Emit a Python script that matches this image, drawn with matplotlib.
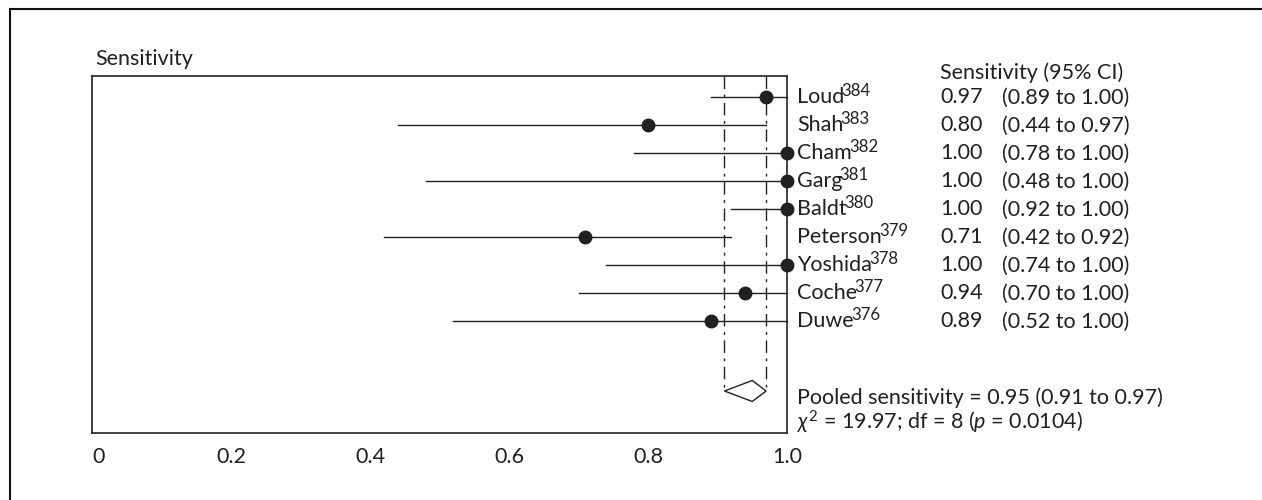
import matplotlib
matplotlib.use("Agg")
import matplotlib.pyplot as plt
from matplotlib.lines import Line2D
from matplotlib.patches import Polygon
import matplotlib.transforms as mtransforms

plt.rcParams['font.family'] = ['Lato', 'DejaVu Sans']
plt.rcParams['mathtext.fontset'] = 'custom'
plt.rcParams['mathtext.rm'] = 'Lato'
plt.rcParams['mathtext.it'] = 'Lato:italic'
plt.rcParams['mathtext.bf'] = 'Lato:bold'

studies = ['Loud', 'Shah', 'Cham', 'Garg', 'Baldt', 'Peterson', 'Yoshida', 'Coche', 'Duwe']
refs = ['384', '383', '382', '381', '380', '379', '378', '377', '376']
sens = [0.97, 0.80, 1.00, 1.00, 1.00, 0.71, 1.00, 0.94, 0.89]
lo = [0.89, 0.44, 0.78, 0.48, 0.92, 0.42, 0.74, 0.70, 0.52]
hi = [1.00, 0.97, 1.00, 1.00, 1.00, 0.92, 1.00, 1.00, 1.00]
sens_txt = ['0.97', '0.80', '1.00', '1.00', '1.00', '0.71', '1.00', '0.94', '0.89']
ci_txt = ['(0.89 to 1.00)', '(0.44 to 0.97)', '(0.78 to 1.00)', '(0.48 to 1.00)',
          '(0.92 to 1.00)', '(0.42 to 0.92)', '(0.74 to 1.00)', '(0.70 to 1.00)',
          '(0.52 to 1.00)']
pooled = 0.95
pooled_lo = 0.91
pooled_hi = 0.97
xticks = [0, 0.2, 0.4, 0.6, 0.8, 1.0]
xticklabels = ['0', '0.2', '0.4', '0.6', '0.8', '1.0']

W, H = 1262, 500
fig = plt.figure(figsize=(W / 100, H / 100), dpi=100)
ax = fig.add_axes([92 / W, (H - 433) / H, (787 - 92) / W, (433 - 76) / H])
ax.set_xlim(0, 1.0)
ax.set_ylim(12.0, -0.75)
for s in ax.spines.values():
    s.set_linewidth(1.2)
    s.set_color('#222222')

fs = 15.5
ink = '#231f20'

rows = list(range(len(studies)))
diamond_y = 10.5
# dash-dot lines for pooled CI
for xv in (pooled_lo, pooled_hi):
    ax.plot([xv, xv], [-0.75, diamond_y], color=ink, lw=1.0,
            linestyle=(0, (9, 4, 2, 4)))

for i in rows:
    ax.plot([lo[i], hi[i]], [i, i], color=ink, lw=1.0, clip_on=False)
    ax.plot([sens[i]], [i], 'o', color=ink, ms=9, clip_on=False, zorder=5)

dh = 0.375
ax.add_patch(Polygon([[pooled_lo, diamond_y], [pooled, diamond_y - dh],
                      [pooled_hi, diamond_y], [pooled, diamond_y + dh]],
                     closed=True, fill=False, edgecolor=ink, lw=1.0))

ax.set_yticks([])
ax.set_xticks(xticks)
ax.set_xticklabels(xticklabels, fontsize=fs, color=ink)
ax.tick_params(axis='x', length=0, pad=10)
labs = ax.get_xticklabels()
labs[0].set_ha('left')

tr = mtransforms.blended_transform_factory(fig.transFigure, ax.transData)
x_name = 797 / W
x_val = 940 / W
x_ci = 1002 / W
base = 0.23
for i in rows:
    t = ax.text(x_name, i + base, studies[i], transform=tr, fontsize=fs,
                va='baseline', ha='left', color=ink)
    ax.annotate(refs[i], xy=(1, 0), xycoords=t, xytext=(-2.0, 8.5),
                textcoords='offset points', fontsize=fs * 0.78, va='baseline',
                ha='left', color=ink)
    ax.text(x_val, i + base, sens_txt[i], transform=tr, fontsize=fs, va='baseline', ha='left', color=ink)
    ax.text(x_ci, i + base, ci_txt[i], transform=tr, fontsize=fs, va='baseline', ha='left', color=ink)

fig.text(940 / W, (H - 79) / H, 'Sensitivity (95% CI)', fontsize=fs, va='baseline', ha='left', color=ink)
fig.text(95 / W, (H - 65) / H, 'Sensitivity', fontsize=fs, va='baseline', ha='left', color=ink)
fig.text(797 / W, (H - 404) / H, 'Pooled sensitivity = 0.95 (0.91 to 0.97)', fontsize=fs,
         va='baseline', ha='left', color=ink)
fig.text(797 / W, (H - 429) / H, r'$\chi^2$ = 19.97; df = 8 ($\it{p}$ = 0.0104)', fontsize=fs,
         va='baseline', ha='left', color=ink)

# outer frame (top and left)
fig.add_artist(Line2D([10 / W, 1.0], [(H - 9) / H, (H - 9) / H], transform=fig.transFigure,
                      color='#111111', lw=1.5))
fig.add_artist(Line2D([10 / W, 10 / W], [0, (H - 9) / H], transform=fig.transFigure,
                      color='#111111', lw=1.5))

fig.savefig('out.png', dpi=100, facecolor='white')
